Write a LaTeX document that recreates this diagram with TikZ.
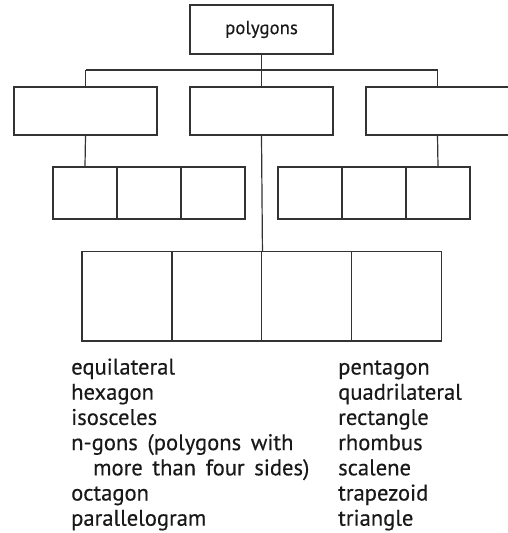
\documentclass[tikz,border=0pt]{standalone}
\usepackage{fontspec}
\setmainfont{PT Sans}[FakeBold=0.35]
\newfontfamily\listfont{PT Sans}[WordSpace=1.6,FakeBold=0.35]
\begin{document}
\begin{tikzpicture}[x=1pt,y=-1pt,
  conn/.style={draw=black!80,line width=1.2pt},
  box/.style={draw=black!80,line width=1.2pt,rectangle,inner sep=0pt},
  bigbox/.style={box,minimum width=143pt,minimum height=48pt},
  smallbox/.style={box,minimum width=64pt,minimum height=52pt},
  sqbox/.style={box,minimum width=89.9pt,minimum height=89.3pt},
  word/.style={anchor=base west,inner sep=0pt,font=\listfont\fontsize{22.6}{26}\selectfont,text=black!90}
]
\useasboundingbox (0,0) rectangle (507,533);
% top
\node[box,minimum width=143pt,minimum height=49pt,font=\fontsize{18.8}{22}\selectfont,text=black!90] (top) at (261.5,29.5) {polygons};
% middle row
\node[bigbox] (midL) at (85.5,111) {};
\node[bigbox] (midM) at (261.5,111) {};
\node[bigbox] (midR) at (437.5,111) {};
% bus
\coordinate (busL) at (85.5,70);
\coordinate (busR) at (437.5,70);
\draw[conn] (busL) -- (busR);
\draw[conn] (top.south) -- (top.south |- busL);
\draw[conn] (busL) -- (midL.north);
\draw[conn] (busR) -- (midR.north);
\draw[conn] (top.south |- busL) -- (midM.north);
% small boxes
\node[smallbox] (sL1) at (85,193) {};
\node[smallbox] (sL2) at (149,193) {};
\node[smallbox] (sL3) at (213,193) {};
\node[smallbox] (sR1) at (310,193) {};
\node[smallbox] (sR2) at (374,193) {};
\node[smallbox] (sR3) at (438,193) {};
\draw[conn] (midL.south) -- (sL1.north);
\draw[conn] (midR.south) -- (sR3.north);
% bottom squares
\node[sqbox] (b1) at (127,296.35) {};
\node[sqbox] (b2) at (216.9,296.35) {};
\node[sqbox] (b3) at (306.8,296.35) {};
\node[sqbox] (b4) at (396.7,296.35) {};
\draw[conn] (midM.south) -- (b2.north east);
% word list
\node[word] (w1) at (71,374.5) {equilateral};
\node[word] (w2) at (71,399.7) {hexagon};
\node[word] (w3) at (71,424.9) {isosceles};
\node[word] (w4) at (71,450.1) {n-gons (polygons with};
\node[word] (w5) at (93,475.3) {more than four sides)};
\node[word] (w6) at (71,500.5) {octagon};
\node[word] (w7) at (71,525.7) {parallelogram};
\node[word] (r1) at (338,374.5) {pentagon};
\node[word] (r2) at (338,399.7) {quadrilateral};
\node[word] (r3) at (338,424.9) {rectangle};
\node[word] (r4) at (338,450.1) {rhombus};
\node[word] (r5) at (338,475.3) {scalene};
\node[word] (r6) at (338,500.5) {trapezoid};
\node[word] (r7) at (338,525.7) {triangle};
\end{tikzpicture}
\end{document}
